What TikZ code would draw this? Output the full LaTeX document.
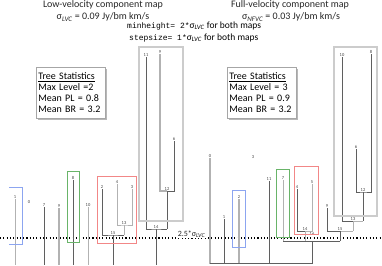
\documentclass[tikz,border=0pt]{standalone}
\usepackage{fontspec}
\setmainfont{Carlito}
\setmonofont{Liberation Mono}
\usetikzlibrary{positioning, shadows}
\definecolor{branchdark}{RGB}{95,95,95}
\definecolor{branchlight}{RGB}{178,178,178}
\definecolor{boxgrey}{RGB}{204,204,204}
\definecolor{boxblue}{RGB}{140,165,240}
\definecolor{boxgreen}{RGB}{105,180,105}
\definecolor{boxred}{RGB}{242,135,135}
\tikzset{
  lbl/.style={font=\fontsize{4.5}{4.5}\selectfont, text=black!75, inner sep=0.4pt},
  dk/.style={draw=branchdark, line width=0.8pt},
  lt/.style={draw=branchlight, line width=0.8pt},
  statbox/.style={draw=gray!70, fill=white, line width=0.6pt, anchor=north west,
    text width=65pt, minimum width=69pt, minimum height=51pt, inner xsep=2pt, inner ysep=4pt, align=left,
    font=\fontsize{10}{11}\selectfont,
    drop shadow={shadow xshift=1.5pt, shadow yshift=-1.5pt, fill=gray!70, opacity=0.8}},
  thresh/.style={draw=black, line width=1.1pt, dash pattern=on 1.1pt off 2.2pt}
}

\begin{document}
\begin{tikzpicture}[x=1pt, y=-1pt]
  \useasboundingbox (0,0) rectangle (382,265);
  % titles
  \node[font=\fontsize{10}{10}\selectfont, text=black!85] (ttlL) at (103,5) {Low-velocity component map};
  \node[font=\fontsize{10}{10}\selectfont, text=black!85] (sigL) at (103,17) {σ\textsubscript{\itshape LVC} = 0.09 Jy/bm km/s};
  \node[font=\fontsize{10}{10}\selectfont, text=black!85] (ttlR) at (290,5) {Full-velocity component map};
  \node[font=\fontsize{10}{10}\selectfont, text=black!85] (sigR) at (291,17) {σ\textsubscript{\itshape NFVC} = 0.03 Jy/bm km/s};
  \node[anchor=west, inner sep=0pt, font=\fontsize{9.5}{9.5}\selectfont] (minh) at (127,26) {{\fontsize{8}{8}\ttfamily minheight= 2*}σ\textsubscript{\itshape LVC} for both maps};
  \node[anchor=west, inner sep=0pt, font=\fontsize{9.5}{9.5}\selectfont] (steps) at (129,38) {{\fontsize{8}{8}\ttfamily stepsize= 1*}σ\textsubscript{\itshape LVC} for both maps};

  % tree statistics
  \node[statbox] (statL) at (36,67) {\underline{Tree Statistics}\\Max Level =2\\Mean PL = 0.8\\Mean BR = 3.2};
  \node[statbox] (statR) at (227,67) {\underline{Tree Statistics}\\Max Level = 3\\Mean PL = 0.9\\Mean BR = 3.2};

  % threshold
  \draw[thresh] (0,238) -- (382,238);
  \node[fill=white, inner sep=0.6pt, font=\fontsize{8}{8}\selectfont, text=black!85] (thr) at (191.5,234) {2.5*σ\textsubscript{\itshape LVC}};

  % left dendrogram: leaves
  \node[lbl] (l1)  at (15,197) {1};
  \node[lbl] (l0)  at (29,202) {0};
  \node[lbl] (l7)  at (44,205) {7};
  \node[lbl] (l9)  at (59,206) {9};
  \node[lbl] (l8)  at (73,178) {8};
  \node[lbl] (l10) at (88,205) {10};
  \node[lbl] (l2)  at (102,187) {2};
  \node[lbl] (l4)  at (117,182) {4};
  \node[lbl] (l3)  at (132,187) {3};
  \node[lbl] (l11) at (146,55) {11};
  \node[lbl] (l9b) at (160,52) {9};
  \node[lbl] (l6)  at (174,139) {6};
  \coordinate (b13) at (124,225);
  \coordinate (b15) at (113,235);
  \coordinate (b12) at (167,191);
  \coordinate (b14) at (156,229);
  \node[lbl, above=0.3pt of b13] (n13) {13};
  \node[lbl, above=0.3pt of b15] (n15) {15};
  \node[lbl, above=0.3pt of b12] (n12) {12};
  \node[lbl, above=0.3pt of b14] (n14) {14};

  \draw[lt] (l1.south) -- (l1.south |- 0,265);
  \draw[dk] (l7.south) -- (l7.south |- 0,265);
  \draw[lt, line width=1.1pt] (l9.south) -- (l9.south |- 0,265);
  \draw[dk] (l8.south) -- (l8.south |- 0,265);
  \draw[lt] (l10.south) -- (l10.south |- 0,265);
  \draw[lt] (l4.south) |- (b13) -| (l3.south);
  \draw[lt] (b13) -- (b13 |- b15);
  \draw[dk] (l2.south) |- (b15) -- (b13 |- b15);
  \draw[dk] (b15) -- (b15 |- 0,265);
  \draw[lt, line width=1.1pt] (l9b.south) |- (b12);
  \draw[dk] (b12) -| (l6.south);
  \draw[dk] (b12) -- (b12 |- b14);
  \draw[dk] (l11.south) |- (b14) -- (b12 |- b14);
  \draw[dk] (b14) -- (b14 |- 0,265);

  % left boxes
  \draw[boxblue, line width=0.9pt] (9,187) -- (22,187) -- (22,244) -- (9,244);
  \draw[boxgreen, line width=1pt] (67,171) rectangle (79,242);
  \draw[boxred, line width=1pt] (97,176) rectangle (136,243);
  \draw[boxgrey, line width=1.4pt] (139,47) rectangle (183,221);

  % right dendrogram: leaves
  \node[lbl] (r0)  at (210,156) {0};
  \node[lbl] (r3)  at (253,157) {3};
  \node[lbl] (r1)  at (224,217) {1};
  \node[lbl] (r2)  at (239,197) {2};
  \node[lbl] (r11) at (269,179) {11};
  \node[lbl] (r7)  at (283,178) {7};
  \node[lbl] (r4)  at (297,187) {4};
  \node[lbl] (r5)  at (312,182) {5};
  \node[lbl] (r9)  at (327,206) {9};
  \node[lbl] (r10) at (342,55) {10};
  \node[lbl] (r8)  at (371,52) {8};
  \node[lbl] (r6)  at (356,147) {6};
  \coordinate (c12) at (363,192);
  \coordinate (c13) at (353,221);
  \coordinate (c14) at (305,231);
  \coordinate (c15) at (340,231);
  \coordinate (c16) at (312,241);
  \coordinate (root) at (260,263.5);
  \node[lbl, above=0.3pt of c12] (m12) {12};
  \node[lbl, above=0.3pt of c13] (m13) {13};
  \node[lbl, above=0.3pt of c14] (m14) {14};
  \node[lbl, above=0.3pt of c15] (m15) {15};
  \node[lbl, fill=white, inner sep=0.8pt] (m16) at (c16 |- thr) {16};

  \draw[dk] (r6.south) |- (c12) -| (r8.south);
  \draw[dk] (c12) -- (c12 |- c13);
  \draw[dk] (r10.south) |- (c13);
  \draw[lt] (c13) -- (c12 |- c13);
  \draw[lt] (c13) -- (c13 |- c15);
  \draw[dk] (r9.south) |- (c15);
  \draw[lt] (c15) -- (c13 |- c15);
  \draw[dk] (r4.south) |- (c14);
  \draw[lt] (c14) -| (r5.south);
  \draw[lt] (c14) -- (c14 |- c16);
  \draw[dk] (c15) -- (c15 |- c16);
  \draw[lt] (r7.south) |- (c16);
  \draw[dk] (r7.south |- c16) -- (c15 |- c16);
  \draw[dk] (c16) -- (c16 |- root);
  \draw[lt, line width=1.6pt] (r0.south) -- (r0.south |- root);
  \draw[dk] (r1.south) -- (r1.south |- root);
  \draw[lt, line width=1.2pt] (r2.south) -- (r2.south |- root);
  \draw[dk] (r11.south) -- (r11.south |- root);
  \draw[dk] (r0.south |- root) -- (c16 |- root);

  % right boxes
  \draw[boxblue, line width=0.9pt] (232,190) rectangle (245,247);
  \draw[boxgreen, line width=1pt] (276,169) rectangle (289,237);
  \draw[boxred, line width=1pt] (294,166) rectangle (318,234);
  \draw[boxgrey, line width=1.4pt] (334,47) rectangle (377,216);
\end{tikzpicture}
\end{document}
